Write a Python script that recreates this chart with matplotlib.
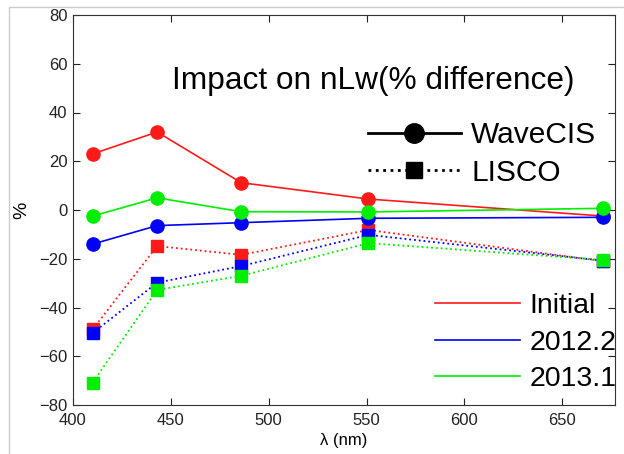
import matplotlib.pyplot as plt
from matplotlib.lines import Line2D
from matplotlib.patches import Rectangle

plt.rcParams['font.family'] = ['Liberation Sans', 'DejaVu Sans']

wavelength = [410, 443, 486, 551, 671]
series = ["Initial", "2012.2", "2013.1"]
colors = ["#ff1a1a", "#0000ff", "#00ee00"]

wavecis = {
    "Initial": [23.0, 32.0, 11.2, 4.5, -2.5],
    "2012.2": [-14.0, -6.4, -5.2, -3.4, -3.0],
    "2013.1": [-2.5, 5.0, -0.7, -0.8, 0.7],
}
lisco = {
    "Initial": [-49.0, -14.8, -18.4, -8.2, -21.0],
    "2012.2": [-50.5, -29.8, -23.0, -10.2, -20.8],
    "2013.1": [-70.8, -32.8, -27.0, -13.6, -20.5],
}

W, H = 624, 454
fig = plt.figure(figsize=(W / 100, H / 100), dpi=100)
ax = fig.add_axes([73 / W, 1 - 405 / H, 542 / W, 390 / H])

for name, c in zip(series, colors):
    ax.plot(wavelength, wavecis[name], '-o', color=c, lw=1.2, ms=9.5)
    ax.plot(wavelength, lisco[name], ':s', color=c, lw=1.3, ms=8)

ax.set_xlim(400, 677)
ax.set_ylim(-80, 80)
ax.set_xticks([400, 450, 500, 550, 600, 650])
ax.set_yticks(range(-80, 81, 20))
ax.tick_params(direction='in', top=True, right=True, labelsize=12, length=5,
               colors='#222222')
ax.tick_params(axis='x', pad=6)
ax.tick_params(axis='y', pad=4)
for s in ax.spines.values():
    s.set_color('#333333')
ax.set_xlabel('λ (nm)', fontsize=12, labelpad=3)
ax.set_ylabel('%', fontsize=14, labelpad=6)

fig.text(172 / W, 1 - 81 / H, 'Impact on nLw(% difference)',
         fontsize=22.8, ha='left', va='center')

style_handles = [
    Line2D([], [], color='black', ls='-', marker='o', ms=14, lw=2),
    Line2D([], [], color='black', ls=':', marker='s', ms=12, lw=2),
]
leg1 = ax.legend(style_handles, ['WaveCIS', 'LISCO'], loc='upper left',
                 bbox_to_anchor=(368 / W, 1 - 121 / H), bbox_transform=fig.transFigure,
                 frameon=False, fontsize=21.5, borderpad=0, borderaxespad=0,
                 handlelength=3.1, handletextpad=0.35, labelspacing=0.33)
ax.add_artist(leg1)

color_handles = [Line2D([], [], color=c, lw=1.2) for c in colors]
ax.legend(color_handles, series, loc='upper left',
          bbox_to_anchor=(435 / W, 1 - 293 / H), bbox_transform=fig.transFigure,
          frameon=False, fontsize=20.5, borderpad=0, borderaxespad=0,
          handlelength=3.0, handletextpad=0.33, labelspacing=0.37)

fig.patches.append(Rectangle((9 / W, -0.1), 1.2, 1.1 - 7 / H, transform=fig.transFigure,
                             fill=False, edgecolor='#cccccc', lw=1))

fig.savefig('out.png', dpi=100)
